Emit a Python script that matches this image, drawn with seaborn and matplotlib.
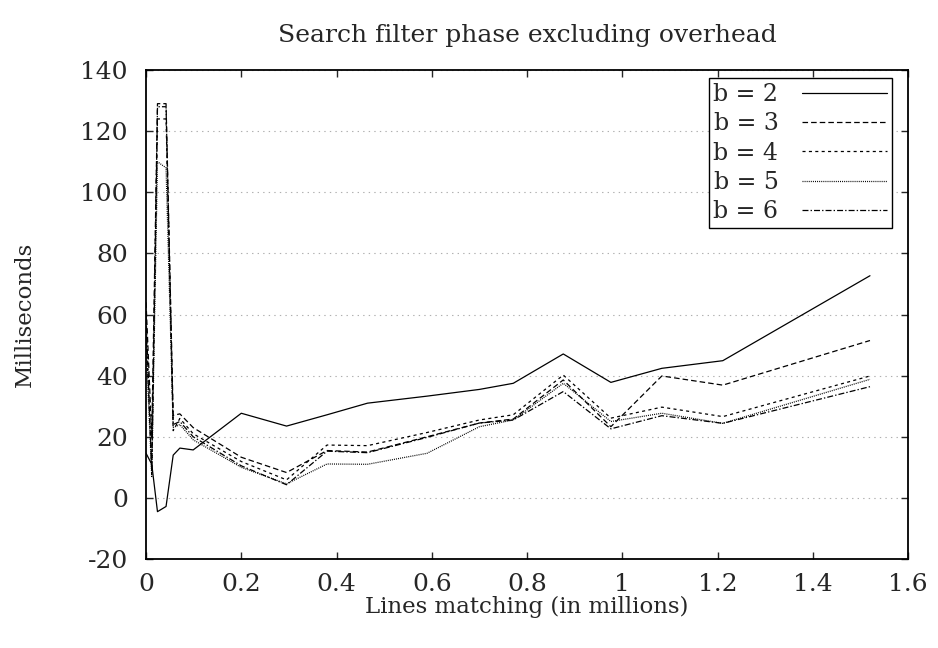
import numpy as np
import pandas as pd
import matplotlib
matplotlib.use("Agg")
import matplotlib.pyplot as plt
import seaborn as sns

# values (milliseconds vs lines matching, millions)
x_vals = [0.0, 0.012, 0.024, 0.042, 0.057, 0.071, 0.099, 0.2, 0.295, 0.38,
          0.465, 0.59, 0.7, 0.771, 0.876, 0.976, 1.083, 1.211, 1.52]
b2 = [14.6, 11, -4.5, -2.8, 14, 16.3, 15.7, 27.7, 23.5, 27.2,
      31, 33.3, 35.5, 37.5, 47.1, 37.8, 42.4, 44.9, 72.7]
b3 = [64, 20, 129, 129, 27, 27.5, 23, 13.3, 8.3, 15.5,
      15, 20, 24.5, 25.8, 38.6, 23.3, 39.9, 36.9, 51.5]
b4 = [55, 10, 124, 124, 22, 26, 21, 11.9, 5.9, 17.3,
      17.1, 21.4, 25.5, 27.2, 40.2, 26.1, 29.7, 26.6, 39.9]
b5 = [50, 7, 110, 108, 23, 24, 19, 10, 4.6, 11.1,
      11, 14.6, 23.3, 25.5, 37.5, 25, 27.7, 24.4, 38.8]
b6 = [60, 8, 128, 128, 24, 25, 20, 10.5, 4.3, 15.3,
      14.8, 19.8, 24.5, 25.5, 34.8, 22.6, 26.9, 24.4, 36.4]

series = {"b = 2": b2, "b = 3": b3, "b = 4": b4, "b = 5": b5, "b = 6": b6}
labels = list(series.keys())
y_ticks = [-20, 0, 20, 40, 60, 80, 100, 120, 140]
x_ticks = [0, 0.2, 0.4, 0.6, 0.8, 1, 1.2, 1.4, 1.6]
x_ticklabels = ["0", "0.2", "0.4", "0.6", "0.8", "1", "1.2", "1.4", "1.6"]

df = pd.concat([pd.DataFrame({"x": x_vals, "ms": v, "b": k}) for k, v in series.items()],
               ignore_index=True)

sns.set_style("ticks")
plt.rcParams['font.family'] = ['DejaVu Serif']
plt.rcParams['lines.scale_dashes'] = False
plt.rcParams['axes.unicode_minus'] = False

dash_map = {
    "b = 2": "",
    "b = 3": (4.0, 2.2),
    "b = 4": (2.2, 2.4),
    "b = 5": (0.7, 0.8),
    "b = 6": (4.3, 1.5, 1.0, 1.5),
}

fig = plt.figure(figsize=(9.38, 6.48), dpi=100)
ax = fig.add_axes([0.1557, 0.1373, 0.8124, 0.7546])

sns.lineplot(data=df, x="x", y="ms", hue="b", style="b",
             palette=["black"] * 5, dashes=dash_map, linewidth=0.9,
             estimator=None, sort=False, ax=ax, legend=True)

ax.set_xlim(0, 1.6)
ax.set_ylim(-20, 140)
ax.set_xticks(x_ticks)
ax.set_xticklabels(x_ticklabels)
ax.set_yticks(y_ticks)
ax.tick_params(direction="in", length=5, width=1, labelsize=18,
               top=True, right=True)
ax.tick_params(axis="y", pad=13)
ax.tick_params(axis="x", pad=10)
for s in ax.spines.values():
    s.set_linewidth(1.3)
    s.set_color("black")
ax.yaxis.grid(True, color="#b0b0b0", linestyle=(0, (1, 3)), linewidth=0.8)
ax.set_axisbelow(True)

ax.set_title("Search filter phase excluding overhead", fontsize=18, pad=20)
ax.set_xlabel("Lines matching (in millions)", fontsize=16.5, labelpad=0)
ax.set_ylabel("Milliseconds", fontsize=16.5, labelpad=32)

handles, _ = ax.get_legend_handles_labels()
handles = handles[-5:]
leg = ax.legend(handles, labels, loc="upper right",
                bbox_to_anchor=(0.9786, 0.9836), fontsize=17,
                markerfirst=False, handlelength=3.6, handletextpad=1.0,
                labelspacing=0.27, borderpad=0.2, borderaxespad=0,
                fancybox=False, framealpha=1, edgecolor="black")
leg.get_frame().set_linewidth(1.0)

plt.savefig("out.png", dpi=100)
